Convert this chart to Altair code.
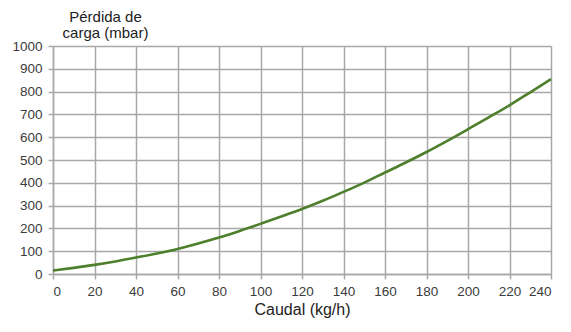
import altair as alt
import pandas as pd

caudal = [0, 10, 20, 30, 40, 50, 60, 70, 80, 90, 100, 110, 120, 130, 140, 150, 160, 170, 180, 190, 200, 210, 220, 230, 240]
perdida = [15, 27, 40, 55, 72, 90, 110, 134, 160, 189, 220, 252, 285, 321, 360, 401, 445, 489, 535, 584, 635, 687, 740, 797, 855]

df = pd.DataFrame({"caudal": caudal, "perdida": perdida})

x_ticks = list(range(0, 241, 20))
y_ticks = list(range(0, 1001, 100))

axis_common = dict(
    labelFont="Liberation Sans", titleFont="Liberation Sans",
    labelFontSize=13.5, labelColor="#3c3c3c", titleColor="#222222",
    gridColor="#a8a8a8", gridWidth=1.5,
    domainColor="#a8a8a8", domainWidth=1.5,
    tickColor="#a8a8a8", tickSize=5, tickWidth=1.5,
    format="d", titleFontWeight="normal",
)

chart = alt.Chart(df).mark_line(color="#4e7f2c", strokeWidth=2.6, interpolate="monotone").encode(
    x=alt.X("caudal:Q",
            scale=alt.Scale(domain=[0, 240], nice=False),
            axis=alt.Axis(values=x_ticks, title="Caudal (kg/h)", titleFontSize=16,
                          titlePadding=4, labelPadding=5, **axis_common)),
    y=alt.Y("perdida:Q",
            scale=alt.Scale(domain=[0, 1000], nice=False),
            axis=alt.Axis(values=y_ticks, title=["Pérdida de", "carga (mbar)"],
                          titleAngle=0, titleAlign="center", titleBaseline="alphabetic",
                          titleX=52, titleY=-25, titleFontSize=15,
                          titleLineHeight=16, labelPadding=6, **axis_common)),
).properties(
    width=498, height=228,
    autosize=alt.AutoSizeParams(type="none"),
    padding={"left": 45, "top": 38, "right": 12, "bottom": 44},
)

chart = chart.configure_view(stroke="#a8a8a8", strokeWidth=1.5).configure(background="white")

chart.save("out.html", embed_options={"renderer": "svg", "actions": False})
